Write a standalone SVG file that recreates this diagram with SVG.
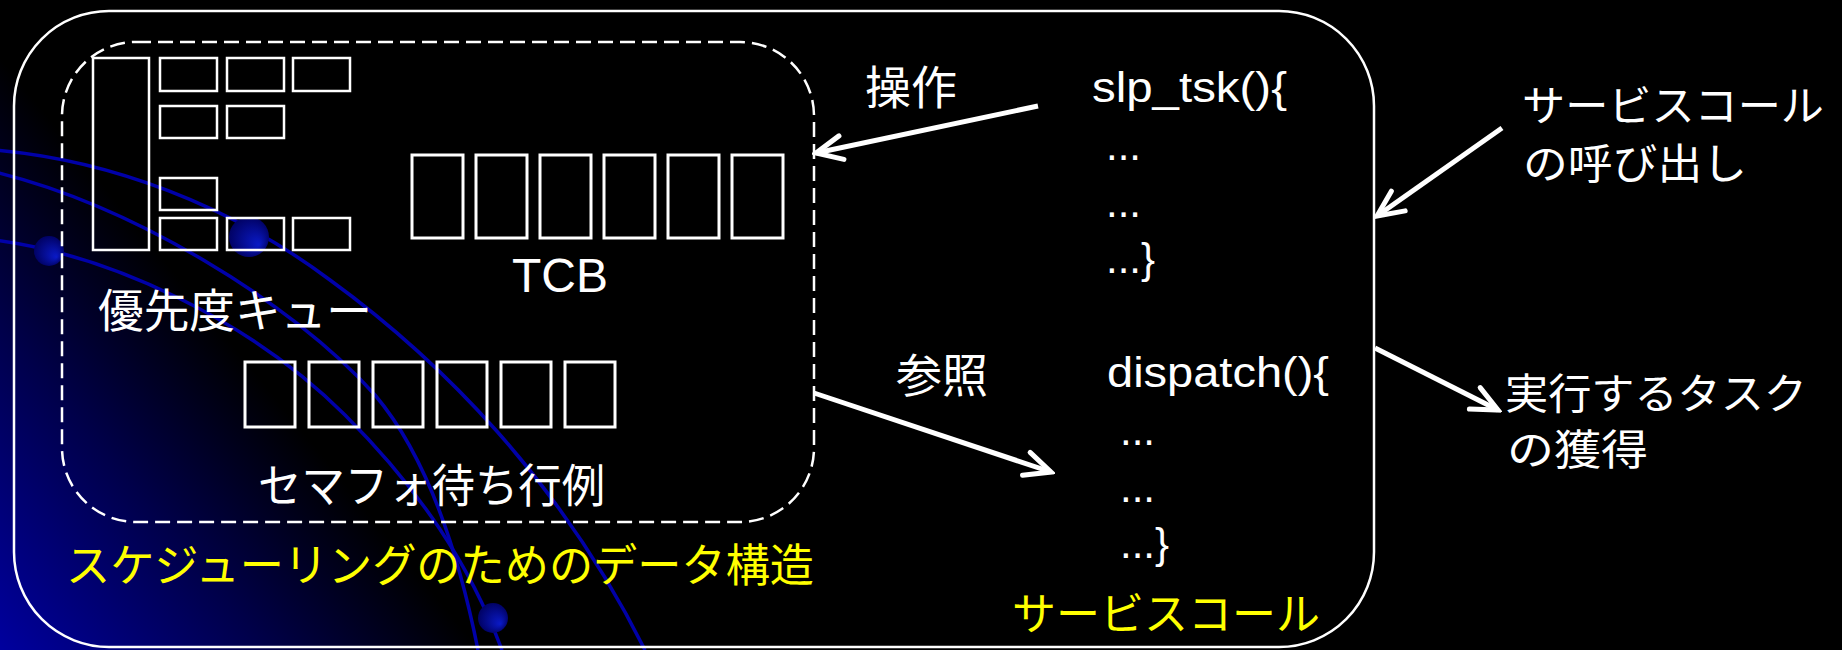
<svg xmlns="http://www.w3.org/2000/svg" width="1842" height="650" viewBox="0 0 1842 650">
<defs>
  <linearGradient id="bgGrad" gradientUnits="userSpaceOnUse" x1="0" y1="650" x2="290" y2="415">
    <stop offset="0" stop-color="#00009E"/>
    <stop offset="0.55" stop-color="#00004A"/>
    <stop offset="1" stop-color="#000000"/>
  </linearGradient>
  <radialGradient id="dotGrad" cx="0.5" cy="0.5" r="0.55" fx="0.75" fy="0.7">
    <stop offset="0" stop-color="#0A1AC8"/>
    <stop offset="1" stop-color="#00005E"/>
  </radialGradient>
  <marker id="arrow" markerUnits="userSpaceOnUse" viewBox="-32 -18 36 36" markerWidth="36" markerHeight="36" refX="0" refY="0" orient="auto">
    <path d="M -26 -12 L 0 0 L -26 12" fill="none" stroke="#FFFFFF" stroke-width="5" stroke-linecap="round" stroke-linejoin="miter"/>
  </marker>
</defs>
<style>
  .frame { fill: none; stroke: #FFFFFF; stroke-width: 2.5; }
  .dash { fill: none; stroke: #FFFFFF; stroke-width: 2.5; stroke-dasharray: 15 7; }
  .qbox { fill: none; stroke: #FFFFFF; stroke-width: 2.5; }
  .tbox { fill: none; stroke: #FFFFFF; stroke-width: 3; }
  .jp { font-family: "Noto Sans CJK JP", "Noto Sans", sans-serif; fill: #FFFFFF; }
  .yl { fill: #FFFF00; }
  .lat { font-family: "Liberation Sans", Arial, sans-serif; fill: #FFFFFF; }
  .deco { fill: none; stroke: #0000A8; stroke-width: 3.5; }
  .conn { fill: none; stroke: #FFFFFF; stroke-width: 5; marker-end: url(#arrow); }
</style>

<g id="background">
  <rect x="0" y="0" width="1842" height="650" fill="#000000"/>
  <rect x="0" y="0" width="1842" height="650" fill="url(#bgGrad)"/>
  <path class="deco" d="M -5 150 C 110 160, 230 205, 330 280 C 440 360, 560 480, 645 650"/>
  <path class="deco" d="M -5 172 C 130 205, 290 300, 375 395 C 430 460, 460 560, 478 650"/>
  <path class="deco" d="M -5 240 C 110 255, 250 320, 345 415 C 420 490, 470 565, 502 650"/>
  <circle cx="249" cy="237" r="20" fill="url(#dotGrad)"/>
  <circle cx="49" cy="251" r="15" fill="url(#dotGrad)"/>
  <circle cx="493" cy="618" r="15" fill="url(#dotGrad)"/>
</g>

<g id="kernel-frame">
  <rect class="frame" x="14" y="11" width="1360" height="636" rx="95" ry="95"/>
</g>

<g id="sched-data">
  <rect class="dash" x="62" y="42" width="752" height="480" rx="74" ry="74"/>
  <text class="jp yl" x="66" y="582" font-size="45" textLength="748" lengthAdjust="spacingAndGlyphs">スケジューリングのためのデータ構造</text>
</g>

<g id="priority-queue">
  <rect class="qbox" x="93" y="58" width="56" height="192"/>
  <rect class="qbox" x="160" y="58" width="57" height="33"/>
  <rect class="qbox" x="227" y="58" width="57" height="33"/>
  <rect class="qbox" x="293" y="58" width="57" height="33"/>
  <rect class="qbox" x="160" y="106" width="57" height="32"/>
  <rect class="qbox" x="227" y="106" width="57" height="32"/>
  <rect class="qbox" x="160" y="178" width="57" height="32"/>
  <rect class="qbox" x="160" y="218" width="57" height="32"/>
  <rect class="qbox" x="227" y="218" width="57" height="32"/>
  <rect class="qbox" x="293" y="218" width="57" height="32"/>
  <text class="jp" x="98" y="327" font-size="46" textLength="274" lengthAdjust="spacingAndGlyphs">優先度キュー</text>
</g>

<g id="tcb">
  <rect class="tbox" x="412" y="155" width="51" height="83"/>
  <rect class="tbox" x="476" y="155" width="51" height="83"/>
  <rect class="tbox" x="540" y="155" width="51" height="83"/>
  <rect class="tbox" x="604" y="155" width="51" height="83"/>
  <rect class="tbox" x="668" y="155" width="51" height="83"/>
  <rect class="tbox" x="732" y="155" width="51" height="83"/>
  <text class="lat" x="560" y="292" font-size="48" text-anchor="middle">TCB</text>
</g>

<g id="semaphore-queue">
  <rect class="tbox" x="245" y="362" width="50" height="65"/>
  <rect class="tbox" x="309" y="362" width="50" height="65"/>
  <rect class="tbox" x="373" y="362" width="50" height="65"/>
  <rect class="tbox" x="437" y="362" width="50" height="65"/>
  <rect class="tbox" x="501" y="362" width="50" height="65"/>
  <rect class="tbox" x="565" y="362" width="50" height="65"/>
  <text class="jp" x="258" y="502" font-size="46" textLength="347" lengthAdjust="spacingAndGlyphs">セマフォ待ち行例</text>
</g>

<g id="slp_tsk">
  <text class="lat" x="1092" y="102" font-size="42" textLength="195" lengthAdjust="spacingAndGlyphs">slp_tsk(){</text>
  <text class="lat" x="1106" y="160" font-size="42">...</text>
  <text class="lat" x="1106" y="217" font-size="42">...</text>
  <text class="lat" x="1106" y="273" font-size="42">...}</text>
</g>

<g id="dispatch">
  <text class="lat" x="1107" y="387" font-size="42" textLength="222" lengthAdjust="spacingAndGlyphs">dispatch(){</text>
  <text class="lat" x="1120" y="445" font-size="42">...</text>
  <text class="lat" x="1120" y="502" font-size="42">...</text>
  <text class="lat" x="1120" y="558" font-size="42">...}</text>
</g>

<g id="service-call">
  <text class="jp yl" x="1012" y="630" font-size="44" textLength="308" lengthAdjust="spacingAndGlyphs">サービスコール</text>
</g>

<g id="label-operate">
  <text class="jp" x="865" y="104" font-size="46">操作</text>
</g>

<g id="label-refer">
  <text class="jp" x="896" y="392" font-size="46">参照</text>
</g>

<g id="label-call">
  <text class="jp" x="1522" y="121" font-size="42" textLength="302" lengthAdjust="spacingAndGlyphs">サービスコール</text>
  <text class="jp" x="1523" y="179" font-size="42" textLength="224" lengthAdjust="spacingAndGlyphs">の呼び出し</text>
</g>

<g id="label-acquire">
  <text class="jp" x="1505" y="409" font-size="42" textLength="302" lengthAdjust="spacingAndGlyphs">実行するタスク</text>
  <text class="jp" x="1507" y="465" font-size="42" textLength="141" lengthAdjust="spacingAndGlyphs">の獲得</text>
</g>

<g id="connectors">
  <path class="conn" d="M 1038 106 L 816 153"/>
  <path class="conn" d="M 814 393 L 1051 472"/>
  <path class="conn" d="M 1502 128 L 1377 216"/>
  <path class="conn" d="M 1375 348 L 1498 410"/>
</g>
</svg>
